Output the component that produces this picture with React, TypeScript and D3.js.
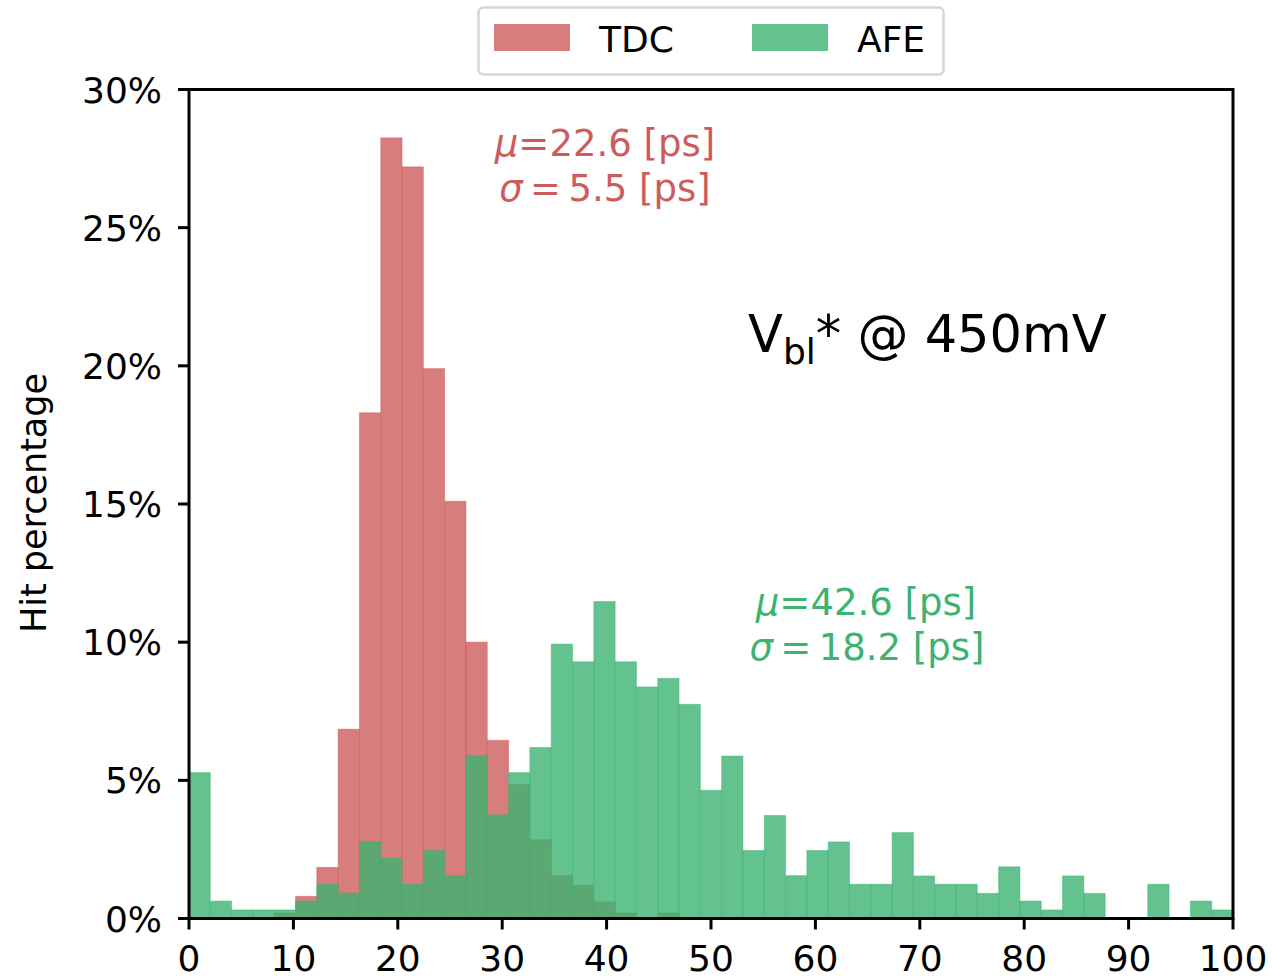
import React from "react";
import * as d3 from "d3";

// ---- data ----
const BIN_COUNT = 49;
const X_MIN = 0;
const X_MAX = 100;
const binEdges = d3.range(BIN_COUNT + 1).map((i) => X_MIN + ((X_MAX - X_MIN) * i) / BIN_COUNT);

const tdcValues = [
  0, 0, 0, 0, 0.2, 0.8, 1.85, 6.85, 18.3, 28.25,
  27.2, 19.9, 15.1, 10.0, 6.45, 4.85, 2.85, 1.55, 1.2, 0.6,
  0.2, 0, 0.2, 0, 0, 0, 0, 0, 0, 0,
  0, 0, 0, 0, 0, 0, 0, 0, 0, 0,
  0, 0, 0, 0, 0, 0, 0, 0, 0,
];

const afeValues = [
  5.28, 0.63, 0.31, 0.31, 0.31, 0.63, 1.24, 0.92, 2.78, 2.18,
  1.24, 2.46, 1.55, 5.89, 3.75, 5.28, 6.19, 9.93, 9.29, 11.47,
  9.29, 8.38, 8.69, 7.75, 4.64, 5.88, 2.46, 3.73, 1.55, 2.46,
  2.77, 1.24, 1.24, 3.11, 1.54, 1.24, 1.24, 0.91, 1.87, 0.63,
  0.31, 1.54, 0.91, 0, 0, 1.24, 0, 0.63, 0.31,
];

const xTicks = [0, 10, 20, 30, 40, 50, 60, 70, 80, 90, 100];
const yTicks = [0, 5, 10, 15, 20, 25, 30];
const seriesNames = ["TDC", "AFE"];
const tdcStats = { mu: "22.6", sigma: "5.5" };
const afeStats = { mu: "42.6", sigma: "18.2" };

// ---- styles ----
const TDC_COLOR = "#CD5C5C";
const AFE_COLOR = "#3CB371";
const W = 1272;
const H = 978;
const PLOT = { left: 189, right: 1233, top: 89.5, bottom: 918.5 };
const FONT = "'DejaVu Sans', sans-serif";

export default function App() {
  const x = d3.scaleLinear().domain([X_MIN, X_MAX]).range([PLOT.left, PLOT.right]);
  const y = d3.scaleLinear().domain([0, 30]).range([PLOT.bottom, PLOT.top]);

  const bars = (values: number[], color: string, key: string) =>
    values.map((v, i) =>
      v > 0 ? (
        <rect
          key={key + i}
          x={x(binEdges[i])}
          width={x(binEdges[i + 1]) - x(binEdges[i])}
          y={y(v)}
          height={y(0) - y(v)}
          fill={color}
          fillOpacity={0.8}
          stroke={color}
          strokeOpacity={0.45}
          strokeWidth={1}
        />
      ) : null
    );

  return (
    <svg
      width={W}
      height={H}
      style={{ position: "absolute", left: 0, top: 0, background: "#fff" }}
    >
      <rect x={0} y={0} width={W} height={H} fill="#fff" />
      <g>{bars(tdcValues, TDC_COLOR, "t")}</g>
      <g>{bars(afeValues, AFE_COLOR, "a")}</g>

      {/* spines */}
      <rect
        x={PLOT.left}
        y={PLOT.top}
        width={PLOT.right - PLOT.left}
        height={PLOT.bottom - PLOT.top}
        fill="none"
        stroke="#000"
        strokeWidth={3}
      />

      {/* x ticks */}
      {xTicks.map((t) => (
        <g key={"xt" + t}>
          <line x1={x(t)} x2={x(t)} y1={PLOT.bottom} y2={PLOT.bottom + 11} stroke="#000" strokeWidth={3} />
          <text
            x={x(t)}
            y={971}
            textAnchor="middle"
            fontFamily={FONT}
            fontSize={36}
            fill="#000"
          >
            {t}
          </text>
        </g>
      ))}

      {/* y ticks */}
      {yTicks.map((t) => (
        <g key={"yt" + t}>
          <line x1={PLOT.left - 11} x2={PLOT.left} y1={y(t)} y2={y(t)} stroke="#000" strokeWidth={3} />
          <text
            x={162}
            y={y(t) + 13}
            textAnchor="end"
            fontFamily={FONT}
            fontSize={36}
            fill="#000"
          >
            {t + "%"}
          </text>
        </g>
      ))}

      {/* y label */}
      <text
        transform={`translate(46, 503) rotate(-90)`}
        textAnchor="middle"
        fontFamily={FONT}
        fontSize={35}
        fill="#000"
      >
        Hit percentage
      </text>

      {/* annotations */}
      <g fontFamily={FONT} fontSize={37} textAnchor="middle" fill={TDC_COLOR}>
        <text x={605} y={156}>
          <tspan fontStyle="italic">μ</tspan>={tdcStats.mu} [ps]
        </text>
        <text x={605} y={201}>
          <tspan fontStyle="italic">σ</tspan>{"\u2009=\u2009"}{tdcStats.sigma} [ps]
        </text>
      </g>
      <g fontFamily={FONT} fontSize={37} textAnchor="middle" fill={AFE_COLOR}>
        <text x={866} y={615}>
          <tspan fontStyle="italic">μ</tspan>={afeStats.mu} [ps]
        </text>
        <text x={867} y={660}>
          <tspan fontStyle="italic">σ</tspan>{"\u2009=\u2009"}{afeStats.sigma} [ps]
        </text>
      </g>

      <text x={748} y={352} fontFamily={FONT} fontSize={51} fill="#000">
        V
        <tspan fontSize={36} dy={12}>bl</tspan>
        <tspan dy={-12}>* @ 450mV</tspan>
      </text>

      {/* legend */}
      <g>
        <rect x={478.5} y={7.5} width={465} height={67} rx={5} fill="#fff" stroke="#d6d6d6" strokeWidth={2.5} />
        <rect x={494} y={24} width={76} height={27} fill={TDC_COLOR} fillOpacity={0.8} />
        <text x={599} y={51.5} fontFamily={FONT} fontSize={36} fill="#000">
          {seriesNames[0]}
        </text>
        <rect x={752} y={24} width={76} height={27} fill={AFE_COLOR} fillOpacity={0.8} />
        <text x={857} y={51.5} fontFamily={FONT} fontSize={36} fill="#000">
          {seriesNames[1]}
        </text>
      </g>
    </svg>
  );
}
